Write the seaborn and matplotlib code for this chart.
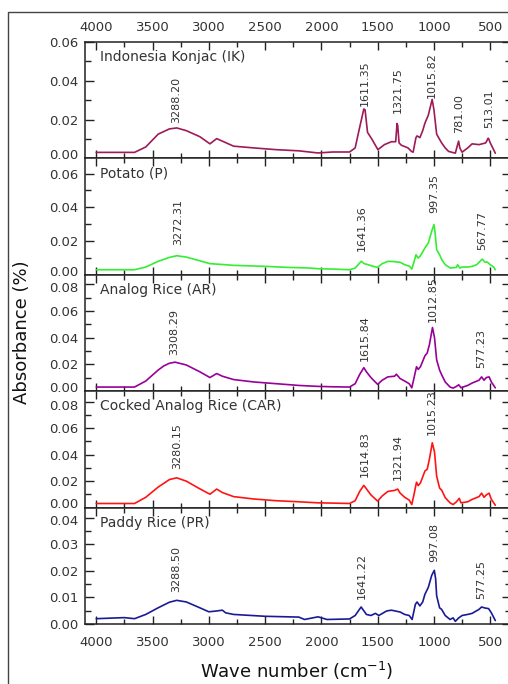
import numpy as np
import pandas as pd
import matplotlib.pyplot as plt
import matplotlib.ticker as ticker
import matplotlib.transforms as mtransforms
from matplotlib.lines import Line2D
import seaborn as sns

# ---- spectra (wave number cm-1, absorbance) ----
ik_wn = [4000, 3660, 3560, 3450, 3350, 3285, 3200, 3080, 2990, 2930, 2880, 2780, 2600, 2400,
         2200, 2030, 1900, 1750, 1700, 1660, 1623, 1612, 1590, 1550, 1498, 1440, 1378, 1340,
         1328, 1322, 1310, 1290, 1230, 1200, 1185, 1160, 1150, 1125, 1100, 1080, 1050, 1016,
         1000, 976, 950, 932, 900, 870, 810, 790, 781, 770, 750, 700, 661, 600, 572, 540,
         518, 513, 500, 470, 455]
ik_abs = [0.0031, 0.0031, 0.0059, 0.0125, 0.0152, 0.0157, 0.0143, 0.0112, 0.0075, 0.0102, 0.0089,
          0.0063, 0.0054, 0.0045, 0.0039, 0.0028, 0.0033, 0.0033, 0.0054, 0.0160, 0.0255, 0.0250,
          0.0134, 0.0098, 0.0045, 0.0071, 0.0086, 0.0086, 0.0180, 0.0170, 0.0080, 0.0068, 0.0054,
          0.0036, 0.0032, 0.0107, 0.0116, 0.0107, 0.0143, 0.0182, 0.0223, 0.0304, 0.0250, 0.0125,
          0.0098, 0.0080, 0.0054, 0.0036, 0.0027, 0.0071, 0.0089, 0.0054, 0.0032, 0.0054, 0.0075,
          0.0071, 0.0075, 0.0080, 0.0104, 0.0100, 0.0080, 0.0045, 0.0027]

p_wn = [4000, 3660, 3560, 3450, 3350, 3285, 3200, 3080, 2990, 2900, 2780, 2500, 2300, 2100,
        2030, 1900, 1750, 1700, 1660, 1645, 1620, 1585, 1540, 1500, 1460, 1408, 1350, 1300,
        1260, 1215, 1197, 1180, 1160, 1140, 1120, 1080, 1050, 1020, 1000, 990, 976, 950, 930,
        900, 855, 800, 790, 770, 750, 700, 661, 620, 572, 545, 527, 500, 470, 455]
p_abs = [0.0030, 0.0030, 0.0046, 0.0080, 0.0103, 0.0113, 0.0105, 0.0083, 0.0066, 0.0062, 0.0056,
         0.0050, 0.0044, 0.0040, 0.0036, 0.0034, 0.0030, 0.0040, 0.0070, 0.0080, 0.0066, 0.0060,
         0.0050, 0.0044, 0.0066, 0.0080, 0.0078, 0.0074, 0.0060, 0.0050, 0.0034, 0.0070, 0.0119,
         0.0099, 0.0113, 0.0159, 0.0189, 0.0258, 0.0298, 0.0250, 0.0149, 0.0119, 0.0089, 0.0060,
         0.0040, 0.0044, 0.0060, 0.0040, 0.0046, 0.0046, 0.0050, 0.0060, 0.0093, 0.0074, 0.0076,
         0.0060, 0.0046, 0.0030]

ar_wn = [4000, 3660, 3560, 3450, 3400, 3350, 3300, 3200, 3080, 2990, 2930, 2880, 2780, 2600,
         2400, 2200, 2030, 1900, 1750, 1700, 1660, 1623, 1600, 1560, 1500, 1460, 1410, 1350,
         1334, 1300, 1260, 1220, 1197, 1175, 1155, 1140, 1120, 1080, 1060, 1040, 1013, 995,
         976, 950, 930, 900, 857, 830, 800, 780, 760, 700, 661, 600, 577, 555, 535, 510, 490, 455]
ar_abs = [0.0031, 0.0031, 0.0076, 0.0158, 0.0189, 0.0209, 0.0217, 0.0196, 0.0145, 0.0102, 0.0132,
          0.0112, 0.0087, 0.0069, 0.0056, 0.0043, 0.0036, 0.0033, 0.0031, 0.0056, 0.0125, 0.0176,
          0.0145, 0.0102, 0.0051, 0.0082, 0.0107, 0.0112, 0.0127, 0.0094, 0.0076, 0.0056, 0.0025,
          0.0107, 0.0183, 0.0163, 0.0183, 0.0265, 0.0285, 0.0349, 0.0476, 0.0400, 0.0234, 0.0158,
          0.0120, 0.0069, 0.0031, 0.0023, 0.0036, 0.0048, 0.0026, 0.0043, 0.0061, 0.0082, 0.0107,
          0.0082, 0.0102, 0.0107, 0.0069, 0.0025]

car_wn = [4000, 3660, 3560, 3450, 3350, 3285, 3200, 3080, 2990, 2930, 2880, 2780, 2600, 2400,
          2200, 2030, 1900, 1750, 1700, 1660, 1623, 1600, 1560, 1500, 1460, 1410, 1350, 1322,
          1300, 1260, 1220, 1197, 1175, 1155, 1140, 1120, 1080, 1060, 1040, 1015, 995, 976,
          950, 930, 900, 857, 830, 800, 775, 760, 700, 661, 600, 577, 555, 535, 510, 490, 455]
car_abs = [0.0031, 0.0031, 0.0078, 0.0155, 0.0212, 0.0225, 0.0200, 0.0142, 0.0101, 0.0140, 0.0114,
           0.0083, 0.0065, 0.0052, 0.0044, 0.0036, 0.0034, 0.0031, 0.0052, 0.0122, 0.0168, 0.0142,
           0.0096, 0.0049, 0.0088, 0.0122, 0.0130, 0.0140, 0.0109, 0.0078, 0.0057, 0.0023, 0.0109,
           0.0192, 0.0166, 0.0187, 0.0277, 0.0290, 0.0368, 0.0490, 0.0420, 0.0238, 0.0148, 0.0130,
           0.0075, 0.0036, 0.0023, 0.0044, 0.0070, 0.0036, 0.0044, 0.0062, 0.0083, 0.0109, 0.0078,
           0.0096, 0.0109, 0.0062, 0.0018]

pr_wn = [4000, 3750, 3660, 3560, 3450, 3350, 3285, 3200, 3080, 3000, 2930, 2880, 2850, 2780,
         2500, 2200, 2150, 2030, 1950, 1750, 1700, 1647, 1600, 1560, 1520, 1490, 1420, 1378,
         1300, 1260, 1220, 1194, 1165, 1150, 1125, 1100, 1080, 1050, 1020, 997, 985, 976, 950,
         932, 900, 857, 830, 810, 780, 750, 700, 661, 600, 577, 545, 515, 490, 455]
pr_abs = [0.0020, 0.0024, 0.0020, 0.0036, 0.0061, 0.0082, 0.0089, 0.0083, 0.0061, 0.0046, 0.0049,
          0.0052, 0.0042, 0.0036, 0.0029, 0.0026, 0.0017, 0.0027, 0.0017, 0.0019, 0.0032, 0.0064,
          0.0036, 0.0032, 0.0040, 0.0032, 0.0049, 0.0052, 0.0045, 0.0036, 0.0032, 0.0017, 0.0074,
          0.0083, 0.0068, 0.0083, 0.0112, 0.0138, 0.0183, 0.0202, 0.0170, 0.0106, 0.0061, 0.0055,
          0.0032, 0.0017, 0.0023, 0.0010, 0.0023, 0.0032, 0.0036, 0.0040, 0.0055, 0.0064, 0.0060,
          0.0058, 0.0042, 0.0013]

# peak labels and the height where each label starts
ik_peaks = ['3288.20', '1611.35', '1321.75', '1015.82', '781.00', '513.01']
ik_peak_y = [0.0184, 0.0271, 0.0235, 0.0313, 0.0130, 0.0157]
p_peaks = ['3272.31', '1641.36', '997.35', '567.77']
p_peak_y = [0.0178, 0.0139, 0.0367, 0.0149]
ar_peaks = ['3308.29', '1615.84', '1012.85', '577.23']
ar_peak_y = [0.0274, 0.0223, 0.0518, 0.0172]
car_peaks = ['3280.15', '1614.83', '1321.94', '1015.23']
car_peak_y = [0.0290, 0.0233, 0.0212, 0.0549]
pr_peaks = ['3288.50', '1641.22', '997.08', '577.25']
pr_peak_y = [0.0119, 0.0093, 0.0234, 0.0093]

names = ['Indonesia Konjac (IK)', 'Potato (P)', 'Analog Rice (AR)',
         'Cocked Analog Rice (CAR)', 'Paddy Rice (PR)']
x_ticks = [4000, 3500, 3000, 2500, 2000, 1500, 1000, 500]

# ---- styling ----
sns.set_theme(style='ticks')
plt.rcParams['font.family'] = ['DejaVu Sans']

spectra = [(ik_wn, ik_abs, ik_peaks, ik_peak_y),
           (p_wn, p_abs, p_peaks, p_peak_y),
           (ar_wn, ar_abs, ar_peaks, ar_peak_y),
           (car_wn, car_abs, car_peaks, car_peak_y),
           (pr_wn, pr_abs, pr_peaks, pr_peak_y)]
colors = ['#9E1A58', '#33EE33', '#990099', '#FF1414', '#1A1A96']
ylims = [0.060, 0.069, 0.087, 0.088, 0.0438]
ymajor = [0.02, 0.02, 0.02, 0.02, 0.01]
ytop = [0.06, 0.06, 0.08, 0.08, 0.04]
txt = '#333333'

fig, axes = plt.subplots(nrows=5, ncols=1, figsize=(5.08, 6.84), dpi=100, sharex=True)
fig.subplots_adjust(left=85/508, right=510.5/508, top=1-42/684, bottom=1-624/684, hspace=0)

for i, (ax, (wn, ab, peaks, peak_y)) in enumerate(zip(axes, spectra)):
    df = pd.DataFrame({'wn': wn, 'abs': ab})
    sns.lineplot(data=df, x='wn', y='abs', ax=ax, color=colors[i], lw=1.2,
                 estimator=None, sort=False)
    ax.set_xlim(4100, 320)
    ax.set_ylim(0, ylims[i])
    ax.set_xlabel('')
    ax.set_ylabel('')
    ax.xaxis.set_major_locator(ticker.FixedLocator(x_ticks))
    ax.xaxis.set_minor_locator(ticker.MultipleLocator(250))
    ax.set_yticks(np.arange(0, ytop[i] + 1e-9, ymajor[i]))
    ax.yaxis.set_minor_locator(ticker.MultipleLocator(ymajor[i] / 2))
    ax.yaxis.set_major_formatter(ticker.FormatStrFormatter('%.2f'))
    for sp in ax.spines.values():
        sp.set_visible(True)
        sp.set_linewidth(1.1)
        sp.set_color('#222222')
    ax.tick_params(axis='both', which='both', direction='in', top=True, right=True,
                   color='#222222', width=1.0, labelcolor=txt, labelsize=9.5)
    ax.tick_params(axis='x', which='major', length=6, pad=(6 if i == 0 else 9),
                   labelbottom=(i == 4), labeltop=(i == 0))
    ax.tick_params(axis='x', which='minor', length=3.5)
    ax.tick_params(axis='y', which='major', length=6.5, pad=5)
    ax.tick_params(axis='y', which='minor', length=4)
    ax.text(0.035, 0.93, names[i], transform=ax.transAxes, ha='left', va='top',
            fontsize=10, color=txt)
    for lab, yy in zip(peaks, peak_y):
        ax.text(float(lab), yy, lab, rotation=90, ha='center', va='bottom',
                fontsize=8, color=txt, clip_on=False)

# stacked 0.00 / top labels between panels sit nudged apart, like the original
up = mtransforms.ScaledTranslation(0, 3/72, fig.dpi_scale_trans)
down = mtransforms.ScaledTranslation(0, -2/72, fig.dpi_scale_trans)
for i, ax in enumerate(axes):
    ticks = ax.yaxis.get_major_ticks()
    if i < 4:
        ticks[0].label1.set_transform(ticks[0].label1.get_transform() + up)
    if i > 1:
        ticks[-1].label1.set_transform(ticks[-1].label1.get_transform() + down)

fig.text(22/508, 1-332/684, 'Absorbance (%)', rotation=90, ha='center', va='center',
         fontsize=13, color='#111111')
fig.text(297/508, 1-671/684, 'Wave number (cm$^{-1}$)', ha='center', va='center',
         fontsize=13, color='#111111')

# outer frame of the original figure
fig.add_artist(Line2D([8/508, 8/508, 1.01], [-0.01, 1-12/684, 1-12/684],
                      transform=fig.transFigure, color='#444444', lw=1.0))

plt.savefig('out.png', dpi=100)
